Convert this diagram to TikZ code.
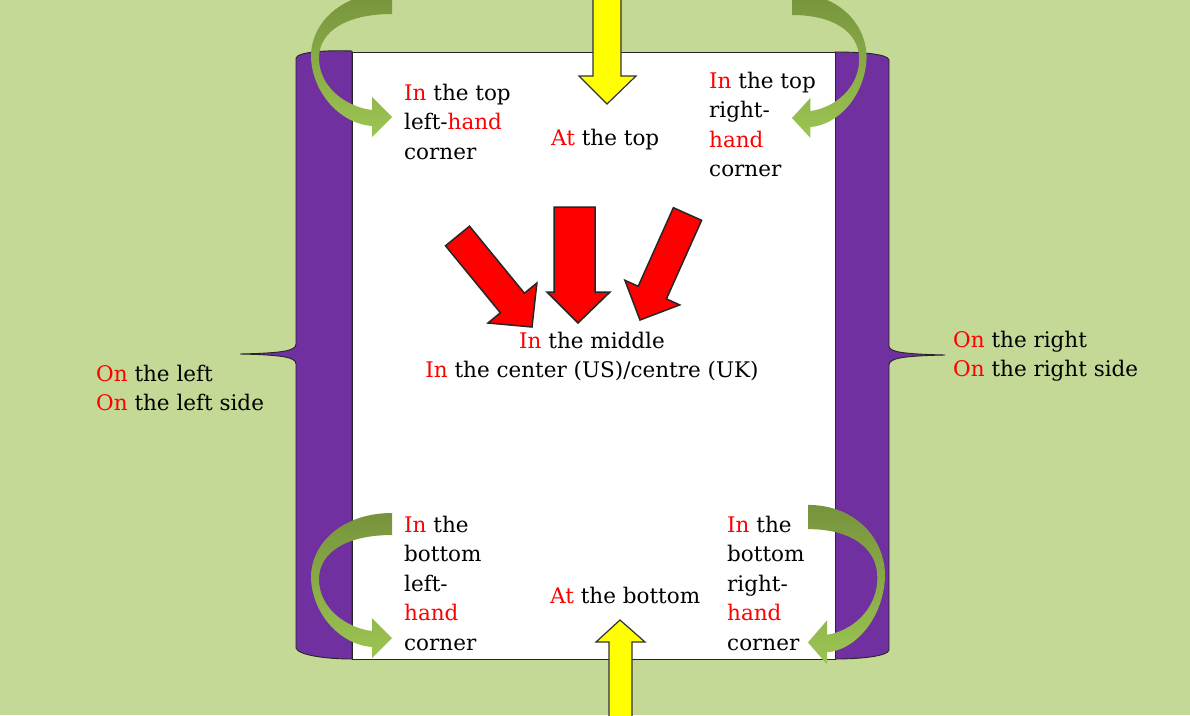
\documentclass[tikz,border=0pt]{standalone}
\usepackage{fontspec}
\setmainfont{DejaVu Serif}
\definecolor{bg}{HTML}{C4D996}
\definecolor{purp}{HTML}{7030A0}
\definecolor{olivedark}{HTML}{77933C}
\definecolor{olivelight}{HTML}{9CC552}
\definecolor{yel}{HTML}{FFFF00}
\definecolor{redt}{HTML}{FF0000}
\newcommand{\redw}[1]{\textcolor{redt}{#1}}
\tikzset{
  txt/.style={inner sep=0pt, anchor=north west, align=left, font=\fontsize{21.5}{29.5}\selectfont},
  ctxt/.style={inner sep=0pt, anchor=north, align=center, font=\fontsize{21.5}{29.5}\selectfont},
  barshape/.style={fill=purp, draw=black!85, line width=0.9pt},
  yarrow/.style={fill=yel, draw=black!80, line width=1.2pt, line join=miter},
  rarrow/.style={fill=redt, draw=black!85, line width=1.5pt, line join=miter},
  carrow/.pic={
    \shade[top color=olivedark, bottom color=olivelight]
      (0,-11) .. controls (-50,-11) and (-82,20) .. (-81,55)
      .. controls (-79,92) and (-50,121) .. (-20,123)
      -- (-20,134) -- (0,114) -- (-20,94) -- (-20,107)
      .. controls (-45,104) and (-73,85) .. (-73,55)
      .. controls (-73,28) and (-45,11) .. (0,11) -- cycle;
  }
}
\begin{document}
\begin{tikzpicture}[x=1pt,y=-1pt]
\useasboundingbox (0,0) rectangle (1190,715);
\fill[bg] (0,0) rectangle (1190,715);
% purple side bars with braces
\path[barshape] (352,51) .. controls (325,50) and (298,52) .. (296,58)
  -- (296,344) .. controls (296,351) and (282,353) .. (240,354)
  .. controls (282,355) and (296,357) .. (296,364)
  -- (296,648) .. controls (298,655) and (325,659) .. (352,659) -- cycle;
\path[barshape] (835,52) .. controls (862,52) and (888,54) .. (889,60)
  -- (889,346) .. controls (889,352) and (903,354) .. (945,355)
  .. controls (903,356) and (889,358) .. (889,365)
  -- (889,650) .. controls (888,656) and (862,659) .. (835,659) -- cycle;
% page
\filldraw[fill=white, draw=black!85, line width=0.9pt] (352,52) rectangle (835,659);
% curved green arrows
\pic at (392,3) {carrow};
\pic[xscale=-0.92] at (792,4) {carrow};
\pic at (392,524) {carrow};
\pic[xscale=-0.95, yscale=1.1] at (808,517) {carrow};
% yellow arrows
\path[yarrow] (593,-2) -- (621,-2) -- (621,76) -- (636,76) -- (607,104) -- (579,76) -- (593,76) -- cycle;
\path[yarrow] (609,717) -- (632,717) -- (632,642) -- (645,642) -- (620,620) -- (596,642) -- (609,642) -- cycle;
% red arrows
\path[rarrow] (554,207) -- (595,207) -- (595,292) -- (610,292) -- (578,323) -- (547,292) -- (554,292) -- cycle;
\path[rarrow] (469.5,226.2) -- (524.4,293.2) -- (536.9,283) -- (532,327) -- (488,323) -- (500.4,312.8) -- (445.5,245.8) -- cycle;
\path[rarrow] (673.4,207.7) -- (701.6,220.3) -- (666.4,298.9) -- (679.7,304.9) -- (640,320) -- (624.9,280.3) -- (638.2,286.3) -- cycle;
% texts
\node[txt] (tl) at (404,83.7) {\redw{In} the top\\left-\redw{hand}\\corner};
\node[txt] (top) at (551,128.7) {\redw{At} the top};
\node[txt] (tr) at (709,71.7) {\redw{In} the top\\right-\\\redw{hand}\\corner};
\node[ctxt] (mid) at (592,331.7) {\redw{In} the middle\\\redw{In} the center (US)/centre (UK)};
\node[txt] (left) at (96,364.7) {\redw{On} the left\\\redw{On} the left side};
\node[txt] (right) at (953,330.7) {\redw{On} the right\\\redw{On} the right side};
\node[txt] (bl) at (404,515.7) {\redw{In} the\\bottom\\left-\\\redw{hand}\\corner};
\node[txt] (bot) at (550,586.7) {\redw{At} the bottom};
\node[txt] (br) at (727,515.7) {\redw{In} the\\bottom\\right-\\\redw{hand}\\corner};
\end{tikzpicture}
\end{document}
